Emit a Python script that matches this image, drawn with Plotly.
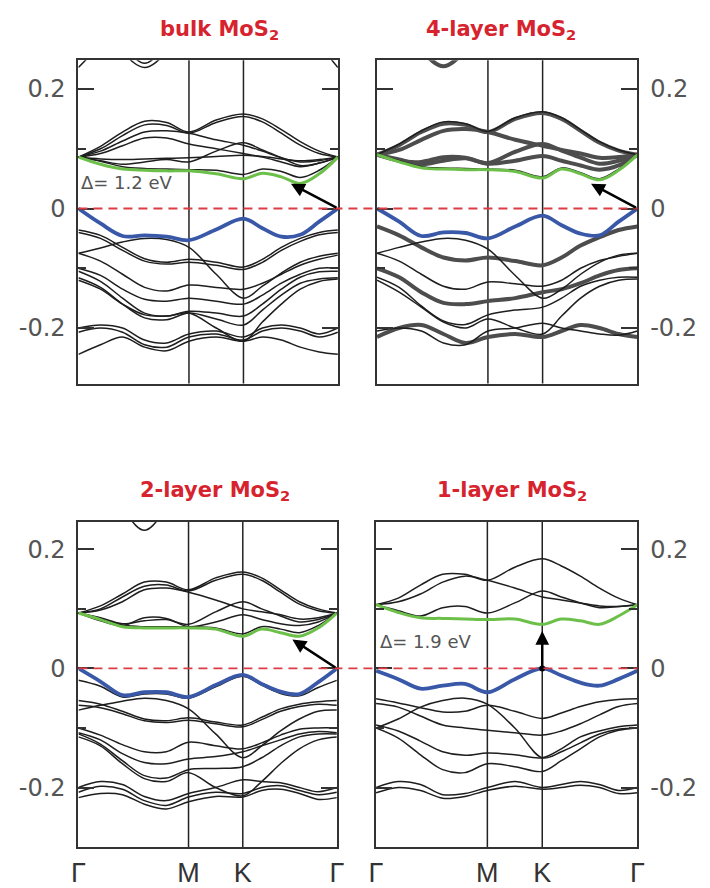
import plotly.graph_objects as go
from plotly.subplots import make_subplots

# ---------------- k-path ----------------
K_PTS = [0.0, 0.085, 0.17, 0.255, 0.34, 0.426, 0.531, 0.636, 0.709, 0.782, 0.855, 0.928, 1.0]
K_TICKS = [0.0, 0.426, 0.636, 1.0]
K_LABELS = ["Γ", "M", "K", "Γ"]
E_TICKS = [-0.2, 0.0, 0.2]
E_LABELS = ["-0.2", "0", "0.2"]
TITLES = ["bulk MoS<sub>2</sub>", "4-layer MoS<sub>2</sub>", "2-layer MoS<sub>2</sub>", "1-layer MoS<sub>2</sub>"]
GAP_LABELS = ["Δ= 1.2 eV", "Δ= 1.9 eV"]

# ---------------- bulk ----------------
bulk_cb_green = [0.086, 0.074, 0.066, 0.064, 0.063, 0.063, 0.058, 0.050, 0.059, 0.053, 0.042, 0.058, 0.086]
bulk_vb_blue = [0.0, -0.025, -0.046, -0.045, -0.047, -0.053, -0.035, -0.017, -0.033, -0.047, -0.044, -0.022, 0.0]
bulk_cb_1 = [0.086, 0.079, 0.070, 0.067, 0.066, 0.065, 0.064, 0.057, 0.066, 0.062, 0.052, 0.064, 0.086]
bulk_cb_2 = [0.086, 0.083, 0.082, 0.083, 0.084, 0.085, 0.087, 0.089, 0.087, 0.083, 0.080, 0.082, 0.086]
bulk_cb_3 = [0.086, 0.080, 0.074, 0.078, 0.082, 0.078, 0.096, 0.110, 0.098, 0.085, 0.072, 0.076, 0.086]
bulk_cb_4 = [0.086, 0.092, 0.105, 0.118, 0.118, 0.108, 0.100, 0.092, 0.086, 0.078, 0.070, 0.076, 0.086]
bulk_cb_5 = [0.086, 0.096, 0.113, 0.128, 0.130, 0.126, 0.115, 0.106, 0.096, 0.085, 0.078, 0.080, 0.086]
bulk_cb_6 = [0.086, 0.104, 0.128, 0.146, 0.144, 0.128, 0.148, 0.158, 0.150, 0.132, 0.112, 0.096, 0.086]
bulk_cb_7 = [0.086, 0.100, 0.122, 0.140, 0.139, 0.126, 0.144, 0.154, 0.145, 0.126, 0.106, 0.092, 0.086]
bulk_cb_8 = [0.320, 0.320, 0.262, 0.236, 0.262, 0.320, 0.320, 0.320, 0.320, 0.320, 0.320, 0.320, 0.320]
bulk_cb_9 = [0.320, 0.320, 0.275, 0.243, 0.275, 0.320, 0.320, 0.320, 0.320, 0.320, 0.320, 0.320, 0.320]
bulk_cb_10 = [0.236, 0.275, 0.320, 0.320, 0.320, 0.320, 0.320, 0.320, 0.320, 0.320, 0.320, 0.275, 0.236]
bulk_vb_1 = [-0.036, -0.045, -0.065, -0.084, -0.090, -0.085, -0.090, -0.098, -0.085, -0.065, -0.050, -0.040, -0.036]
bulk_vb_2 = [-0.040, -0.050, -0.070, -0.088, -0.093, -0.090, -0.095, -0.102, -0.090, -0.070, -0.055, -0.044, -0.040]
bulk_vb_3 = [-0.075, -0.066, -0.056, -0.050, -0.052, -0.065, -0.110, -0.150, -0.130, -0.108, -0.090, -0.080, -0.075]
bulk_vb_4 = [-0.075, -0.088, -0.110, -0.132, -0.138, -0.128, -0.132, -0.135, -0.125, -0.110, -0.095, -0.085, -0.078]
bulk_vb_5 = [-0.100, -0.112, -0.135, -0.152, -0.155, -0.150, -0.155, -0.160, -0.145, -0.125, -0.110, -0.100, -0.100]
bulk_vb_6 = [-0.105, -0.122, -0.150, -0.175, -0.180, -0.172, -0.175, -0.180, -0.160, -0.135, -0.115, -0.106, -0.105]
bulk_vb_7 = [-0.116, -0.132, -0.160, -0.183, -0.186, -0.175, -0.185, -0.195, -0.170, -0.145, -0.125, -0.118, -0.116]
bulk_vb_8 = [-0.120, -0.135, -0.160, -0.178, -0.180, -0.175, -0.200, -0.222, -0.190, -0.160, -0.135, -0.122, -0.118]
bulk_vb_9 = [-0.200, -0.195, -0.200, -0.220, -0.225, -0.210, -0.205, -0.215, -0.200, -0.195, -0.200, -0.210, -0.200]
bulk_vb_10 = [-0.207, -0.200, -0.207, -0.228, -0.232, -0.215, -0.210, -0.220, -0.205, -0.200, -0.205, -0.215, -0.207]
bulk_vb_11 = [-0.244, -0.228, -0.215, -0.232, -0.238, -0.222, -0.215, -0.222, -0.215, -0.220, -0.232, -0.240, -0.244]

# ---------------- 4-layer ----------------
l4_cb_green = [0.090, 0.078, 0.068, 0.066, 0.065, 0.065, 0.062, 0.051, 0.066, 0.058, 0.048, 0.064, 0.090]
l4_vb_blue = [0.0, -0.022, -0.046, -0.040, -0.041, -0.050, -0.030, -0.012, -0.028, -0.042, -0.045, -0.022, 0.0]
l4_cb_1 = [0.090, 0.080, 0.070, 0.068, 0.067, 0.066, 0.064, 0.053, 0.068, 0.060, 0.050, 0.066, 0.090]
l4_cb_bundle_1 = [0.090, 0.106, 0.128, 0.142, 0.140, 0.128, 0.150, 0.160, 0.150, 0.130, 0.110, 0.097, 0.090]
l4_cb_bundle_2 = [0.090, 0.098, 0.115, 0.130, 0.133, 0.128, 0.115, 0.105, 0.098, 0.092, 0.085, 0.086, 0.090]
l4_cb_bundle_3 = [0.090, 0.082, 0.074, 0.080, 0.084, 0.076, 0.095, 0.108, 0.097, 0.085, 0.075, 0.080, 0.090]
l4_cb_bundle_4 = [0.090, 0.080, 0.078, 0.086, 0.085, 0.075, 0.080, 0.088, 0.080, 0.072, 0.065, 0.072, 0.090]
l4_cb_bundle_5 = [0.320, 0.320, 0.265, 0.238, 0.265, 0.320, 0.320, 0.320, 0.320, 0.320, 0.320, 0.320, 0.320]
l4_cb_2 = [0.090, 0.108, 0.130, 0.145, 0.142, 0.129, 0.152, 0.162, 0.152, 0.132, 0.112, 0.098, 0.090]
l4_vb_bundle_1 = [-0.030, -0.045, -0.065, -0.082, -0.087, -0.082, -0.088, -0.095, -0.082, -0.062, -0.048, -0.036, -0.030]
l4_vb_bundle_2 = [-0.100, -0.115, -0.140, -0.158, -0.160, -0.155, -0.150, -0.140, -0.135, -0.125, -0.112, -0.103, -0.100]
l4_vb_bundle_3 = [-0.215, -0.200, -0.195, -0.210, -0.225, -0.215, -0.210, -0.215, -0.205, -0.195, -0.200, -0.210, -0.215]
l4_vb_1 = [-0.075, -0.065, -0.056, -0.050, -0.053, -0.068, -0.112, -0.150, -0.135, -0.110, -0.090, -0.078, -0.075]
l4_vb_2 = [-0.075, -0.088, -0.110, -0.130, -0.135, -0.123, -0.126, -0.130, -0.120, -0.100, -0.087, -0.080, -0.075]
l4_vb_3 = [-0.115, -0.132, -0.163, -0.188, -0.194, -0.178, -0.170, -0.165, -0.150, -0.130, -0.120, -0.115, -0.115]
l4_vb_4 = [-0.120, -0.140, -0.165, -0.190, -0.200, -0.185, -0.200, -0.210, -0.180, -0.150, -0.130, -0.120, -0.118]
l4_vb_5 = [-0.205, -0.200, -0.205, -0.225, -0.228, -0.205, -0.200, -0.192, -0.200, -0.205, -0.210, -0.212, -0.205]

# ---------------- 2-layer ----------------
l2_cb_green = [0.093, 0.082, 0.070, 0.068, 0.068, 0.068, 0.066, 0.054, 0.066, 0.060, 0.054, 0.068, 0.093]
l2_vb_blue = [0.0, -0.022, -0.045, -0.040, -0.040, -0.048, -0.028, -0.011, -0.026, -0.039, -0.043, -0.023, 0.0]
l2_cb_1 = [0.093, 0.105, 0.125, 0.145, 0.145, 0.132, 0.152, 0.162, 0.152, 0.132, 0.112, 0.100, 0.093]
l2_cb_2 = [0.093, 0.100, 0.120, 0.138, 0.140, 0.130, 0.148, 0.158, 0.148, 0.128, 0.108, 0.097, 0.093]
l2_cb_3 = [0.093, 0.098, 0.112, 0.132, 0.135, 0.128, 0.115, 0.100, 0.095, 0.090, 0.083, 0.085, 0.093]
l2_cb_4 = [0.093, 0.085, 0.075, 0.080, 0.082, 0.074, 0.095, 0.112, 0.100, 0.088, 0.078, 0.082, 0.093]
l2_cb_5 = [0.093, 0.080, 0.072, 0.085, 0.084, 0.070, 0.078, 0.090, 0.082, 0.075, 0.072, 0.078, 0.093]
l2_cb_6 = [0.093, 0.084, 0.073, 0.070, 0.070, 0.070, 0.068, 0.058, 0.070, 0.066, 0.060, 0.072, 0.093]
l2_cb_7 = [0.320, 0.320, 0.268, 0.232, 0.268, 0.320, 0.320, 0.320, 0.320, 0.320, 0.320, 0.320, 0.320]
l2_vb_1 = [-0.020, -0.030, -0.048, -0.043, -0.043, -0.050, -0.031, -0.013, -0.028, -0.042, -0.046, -0.032, -0.020]
l2_vb_2 = [-0.054, -0.060, -0.072, -0.085, -0.088, -0.083, -0.090, -0.095, -0.082, -0.068, -0.060, -0.056, -0.054]
l2_vb_3 = [-0.062, -0.066, -0.076, -0.088, -0.091, -0.087, -0.093, -0.098, -0.086, -0.072, -0.064, -0.060, -0.062]
l2_vb_4 = [-0.070, -0.062, -0.055, -0.050, -0.054, -0.068, -0.110, -0.150, -0.130, -0.105, -0.085, -0.072, -0.070]
l2_vb_5 = [-0.100, -0.112, -0.128, -0.140, -0.140, -0.124, -0.130, -0.135, -0.125, -0.112, -0.102, -0.100, -0.100]
l2_vb_6 = [-0.108, -0.120, -0.143, -0.158, -0.160, -0.152, -0.148, -0.140, -0.130, -0.120, -0.110, -0.106, -0.108]
l2_vb_7 = [-0.110, -0.127, -0.155, -0.180, -0.184, -0.170, -0.168, -0.165, -0.150, -0.130, -0.115, -0.110, -0.110]
l2_vb_8 = [-0.115, -0.130, -0.160, -0.185, -0.190, -0.175, -0.200, -0.214, -0.190, -0.160, -0.135, -0.120, -0.115]
l2_vb_9 = [-0.200, -0.190, -0.195, -0.215, -0.222, -0.210, -0.200, -0.187, -0.190, -0.192, -0.200, -0.207, -0.200]
l2_vb_10 = [-0.208, -0.198, -0.203, -0.222, -0.230, -0.216, -0.208, -0.210, -0.200, -0.197, -0.205, -0.212, -0.208]
l2_vb_11 = [-0.217, -0.210, -0.212, -0.228, -0.236, -0.224, -0.215, -0.216, -0.205, -0.203, -0.210, -0.220, -0.217]

# ---------------- 1-layer ----------------
l1_cb_green = [0.107, 0.094, 0.085, 0.084, 0.083, 0.082, 0.083, 0.074, 0.083, 0.080, 0.074, 0.088, 0.107]
l1_vb_blue = [-0.004, -0.018, -0.034, -0.029, -0.026, -0.040, -0.018, 0.0, -0.012, -0.024, -0.029, -0.018, -0.004]
l1_cb_1 = [0.107, 0.118, 0.140, 0.158, 0.158, 0.148, 0.170, 0.184, 0.172, 0.155, 0.135, 0.118, 0.107]
l1_cb_2 = [0.107, 0.112, 0.125, 0.145, 0.155, 0.148, 0.135, 0.120, 0.115, 0.110, 0.105, 0.104, 0.107]
l1_cb_3 = [0.107, 0.097, 0.088, 0.102, 0.104, 0.093, 0.110, 0.130, 0.120, 0.110, 0.102, 0.104, 0.107]
l1_vb_1 = [-0.051, -0.058, -0.066, -0.073, -0.072, -0.062, -0.072, -0.084, -0.075, -0.064, -0.056, -0.052, -0.051]
l1_vb_2 = [-0.100, -0.085, -0.065, -0.054, -0.050, -0.060, -0.100, -0.150, -0.140, -0.125, -0.110, -0.102, -0.100]
l1_vb_3 = [-0.059, -0.065, -0.080, -0.095, -0.100, -0.104, -0.108, -0.112, -0.105, -0.093, -0.078, -0.064, -0.059]
l1_vb_4 = [-0.095, -0.105, -0.122, -0.140, -0.146, -0.142, -0.145, -0.150, -0.135, -0.115, -0.105, -0.098, -0.095]
l1_vb_5 = [-0.100, -0.117, -0.145, -0.170, -0.175, -0.160, -0.165, -0.173, -0.155, -0.135, -0.115, -0.104, -0.100]
l1_vb_6 = [-0.200, -0.190, -0.195, -0.212, -0.210, -0.200, -0.190, -0.200, -0.195, -0.190, -0.195, -0.205, -0.200]
l1_vb_7 = [-0.209, -0.200, -0.205, -0.218, -0.215, -0.205, -0.198, -0.203, -0.200, -0.196, -0.200, -0.210, -0.209]

# ---------------- grouping ----------------
PANELS = [
    dict(row=1, col=1,
         black=[bulk_cb_1, bulk_cb_2, bulk_cb_3, bulk_cb_4, bulk_cb_5, bulk_cb_6, bulk_cb_7, bulk_cb_8,
                bulk_cb_9, bulk_cb_10, bulk_vb_1, bulk_vb_2, bulk_vb_3, bulk_vb_4, bulk_vb_5, bulk_vb_6,
                bulk_vb_7, bulk_vb_8, bulk_vb_9, bulk_vb_10, bulk_vb_11],
         bundles=[], green=bulk_cb_green, blue=bulk_vb_blue),
    dict(row=1, col=2,
         black=[l4_cb_1, l4_cb_2, l4_vb_1, l4_vb_2, l4_vb_3, l4_vb_4, l4_vb_5],
         bundles=[l4_cb_bundle_1, l4_cb_bundle_2, l4_cb_bundle_3, l4_cb_bundle_4, l4_cb_bundle_5,
                  l4_vb_bundle_1, l4_vb_bundle_2, l4_vb_bundle_3],
         green=l4_cb_green, blue=l4_vb_blue),
    dict(row=2, col=1,
         black=[l2_cb_1, l2_cb_2, l2_cb_3, l2_cb_4, l2_cb_5, l2_cb_6, l2_cb_7, l2_vb_1, l2_vb_2, l2_vb_3,
                l2_vb_4, l2_vb_5, l2_vb_6, l2_vb_7, l2_vb_8, l2_vb_9, l2_vb_10, l2_vb_11],
         bundles=[], green=l2_cb_green, blue=l2_vb_blue),
    dict(row=2, col=2,
         black=[l1_cb_1, l1_cb_2, l1_cb_3, l1_vb_1, l1_vb_2, l1_vb_3, l1_vb_4, l1_vb_5, l1_vb_6, l1_vb_7],
         bundles=[], green=l1_cb_green, blue=l1_vb_blue),
]

BLACK = "#1e1e1e"
GREEN = "#6cc04a"
BLUE = "#3a58a8"
RED_TXT = "#d6232e"
DASH_RED = "#dc3c46"
FRAME = "#333333"

fig = make_subplots(rows=2, cols=2, horizontal_spacing=0.05, vertical_spacing=0.1)

for p in PANELS:
    r, c = p["row"], p["col"]
    for b in p["bundles"]:
        fig.add_trace(go.Scatter(x=K_PTS, y=b, mode="lines",
                                 line=dict(color="#4d4d4d", width=4, shape="spline", smoothing=1.0),
                                 hoverinfo="skip", showlegend=False), row=r, col=c)
    for b in p["black"]:
        fig.add_trace(go.Scatter(x=K_PTS, y=b, mode="lines",
                                 line=dict(color=BLACK, width=1.5, shape="spline", smoothing=1.0),
                                 hoverinfo="skip", showlegend=False), row=r, col=c)
    fig.add_trace(go.Scatter(x=K_PTS, y=p["green"], mode="lines",
                             line=dict(color=GREEN, width=3, shape="spline", smoothing=1.0),
                             hoverinfo="skip", showlegend=False), row=r, col=c)
    fig.add_trace(go.Scatter(x=K_PTS, y=p["blue"], mode="lines",
                             line=dict(color=BLUE, width=3.8, shape="spline", smoothing=1.0),
                             hoverinfo="skip", showlegend=False), row=r, col=c)

# VBM dot for monolayer at K
fig.add_trace(go.Scatter(x=[K_PTS[7]], y=[l1_vb_blue[7]], mode="markers",
                         marker=dict(color="black", size=6), hoverinfo="skip", showlegend=False),
              row=2, col=2)

# ---------------- axes ----------------
X_DOMAINS = [[0.1028, 0.4761], [0.5324, 0.9070], [0.1028, 0.4746], [0.5310, 0.9070]]
Y_DOMAINS = [[0.5631, 0.9313], [0.5631, 0.9313], [0.0349, 0.4054], [0.0349, 0.4054]]
Y_RANGES = [[-0.293, 0.248], [-0.293, 0.248], [-0.3005, 0.2458], [-0.3005, 0.2458]]

for i in range(4):
    sfx = "" if i == 0 else str(i + 1)
    fig.layout["xaxis" + sfx].update(
        domain=X_DOMAINS[i], range=[0, 1], showgrid=False, zeroline=False,
        showline=True, mirror=True, linecolor=FRAME, linewidth=2,
        tickvals=K_TICKS, ticktext=K_LABELS, ticks="",
        showticklabels=(i >= 2),
        tickfont=dict(family="Liberation Sans, Arial", size=27, color="#333333"),
    )
    fig.layout["yaxis" + sfx].update(
        domain=Y_DOMAINS[i], range=Y_RANGES[i], showgrid=False, zeroline=False,
        showline=True, mirror="ticks", linecolor=FRAME, linewidth=2,
        tickvals=E_TICKS, ticktext=E_LABELS, ticks="inside", ticklen=16, tickwidth=1.5, tickcolor=FRAME,
        side="left" if i % 2 == 0 else "right",
        ticklabelstandoff=6,
        minor=dict(ticks="inside", ticklen=8, tickwidth=1.5, tickcolor=FRAME, dtick=0.1, tick0=0),
        tickfont=dict(family="DejaVu Sans", size=24, color="#555555"),
    )
    # M and K vertical lines
    for kx in K_TICKS[1:3]:
        fig.add_shape(type="line", xref="x" + sfx, yref="y" + sfx + " domain",
                      x0=kx, x1=kx, y0=0, y1=1, line=dict(color="#222222", width=1.5), layer="below")

# red dashed Fermi lines across each row
for yref in ["y", "y3"]:
    fig.add_shape(type="line", xref="paper", yref=yref, x0=0.1028, x1=0.907, y0=0, y1=0,
                  line=dict(color=DASH_RED, width=1.8, dash="9px,6px"), layer="above")

# titles
TITLE_POS = [(0.3063, 0.983), (0.7113, 0.983), (0.2993, 0.458), (0.726, 0.458)]
for t, (tx, ty) in zip(TITLES, TITLE_POS):
    fig.add_annotation(text="<b>" + t + "</b>", xref="paper", yref="paper", x=tx, y=ty,
                       xanchor="center", yanchor="top", showarrow=False,
                       font=dict(family="DejaVu Sans", size=21, color=RED_TXT))

# gap labels
fig.add_annotation(text=GAP_LABELS[0], xref="x", yref="y", x=0.0, y=0.044, xanchor="left", xshift=1,
                   yanchor="middle", showarrow=False, font=dict(family="DejaVu Sans", size=18, color="#555555"))
fig.add_annotation(text=GAP_LABELS[1], xref="x4", yref="y4", x=0.0, y=0.046, xanchor="left", xshift=2,
                   yanchor="middle", showarrow=False, font=dict(family="DejaVu Sans", size=18, color="#555555"))

# transition arrows
ARROWS = [("x", "y", 1.0, 0.0, 0.819, 0.0415), ("x2", "y2", 1.0, 0.0, 0.822, 0.0415),
          ("x3", "y3", 1.0, 0.0, 0.828, 0.0487), ("x4", "y4", K_PTS[7], 0.0, K_PTS[7], 0.063)]
for xr, yr, x0, y0, x1, y1 in ARROWS:
    fig.add_annotation(xref=xr, yref=yr, axref=xr, ayref=yr, x=x1, y=y1, ax=x0, ay=y0,
                       text="", showarrow=True, arrowhead=2, arrowsize=1.1, arrowwidth=2.5,
                       arrowcolor="black")

fig.update_layout(width=710, height=888, margin=dict(l=0, r=0, t=0, b=0),
                  paper_bgcolor="white", plot_bgcolor="white")

fig.write_html("out.html")
